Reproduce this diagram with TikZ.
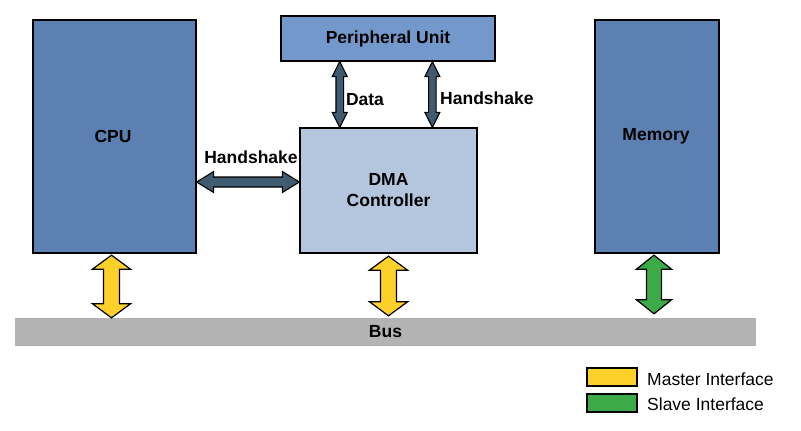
\documentclass[tikz,border=0pt]{standalone}
\usepackage{fontspec}
\setmainfont{Liberation Sans}
\usetikzlibrary{calc}
\definecolor{cpublue}{HTML}{5B80B1}
\definecolor{periblue}{HTML}{7399CC}
\definecolor{dmablue}{HTML}{B3C6DE}
\definecolor{darkarrow}{HTML}{3E5B72}
\definecolor{masteryellow}{HTML}{FDD12A}
\definecolor{slavegreen}{HTML}{3DAA48}
\definecolor{busgray}{HTML}{B3B3B3}
% double arrow: #1 style, #2 start, #3 end, #4 head length, #5 shaft half width, #6 head half width
\newcommand{\dblarrow}[6]{%
\draw[#1] (#2) -- ($(#2)!#4!(#3)!#6!90:(#3)$) -- ($(#2)!#4!(#3)!#5!90:(#3)$)
 -- ($(#3)!#4!(#2)!#5!-90:(#2)$) -- ($(#3)!#4!(#2)!#6!-90:(#2)$) -- (#3)
 -- ($(#3)!#4!(#2)!#6!90:(#2)$) -- ($(#3)!#4!(#2)!#5!90:(#2)$)
 -- ($(#2)!#4!(#3)!#5!-90:(#3)$) -- ($(#2)!#4!(#3)!#6!-90:(#3)$) -- cycle;}
\begin{document}
\begin{tikzpicture}[x=1pt,y=-1pt,
  every node/.style={font=\fontsize{17.5}{21}\selectfont},
  blockbox/.style={draw=black,line width=1.3pt,inner sep=0pt,font=\fontsize{17.5}{21}\selectfont\bfseries},
  lbl/.style={inner sep=0pt,font=\fontsize{17.5}{21}\selectfont\bfseries},
  legbox/.style={draw=black,line width=1.3pt,minimum width=50pt,minimum height=18pt,inner sep=0pt},
  legtext/.style={anchor=west,inner sep=0pt},
  arrowdark/.style={draw=black,line width=1.1pt,fill=darkarrow,line join=miter},
  arrowmaster/.style={draw=black,line width=1.2pt,fill=masteryellow,line join=miter},
  arrowslave/.style={draw=black,line width=1.2pt,fill=slavegreen,line join=miter}]
\useasboundingbox (0,0) rectangle (801,431);
\fill[white] (0,0) rectangle (801,431);

% blocks
\node[blockbox,fill=cpublue,minimum width=163pt,minimum height=233pt] (cpu) at (114.5,136.5) {};
\node[lbl] at (113,136) {CPU};
\node[blockbox,fill=periblue,minimum width=214pt,minimum height=45pt] (peri) at (388,38.5) {Peripheral Unit};
\node[blockbox,fill=dmablue,minimum width=177pt,minimum height=125pt,align=center] (dma) at (388.5,190.5) {DMA\\Controller};
\node[blockbox,fill=cpublue,minimum width=124pt,minimum height=233pt] (mem) at (657,136.5) {};
\node[lbl] at (656,136) {Memory};
\node[fill=busgray,minimum width=741pt,minimum height=28pt,inner sep=0pt,font=\fontsize{17.5}{21}\selectfont\bfseries] (bus) at (385.5,332) {Bus};

% anchor coordinates for connectors
\coordinate (dA) at ($(peri.south west)!0.276!(peri.south east)$);
\coordinate (dB) at (dA |- dma.north);
\coordinate (hsA) at ($(peri.south west)!0.706!(peri.south east)$);
\coordinate (hsB) at (hsA |- dma.north);
\coordinate (hB) at ($(dma.west)+(0,-8.5)$);
\coordinate (hA) at (hB -| cpu.east);
\coordinate (ca) at ($(cpu.south)+(-3,1.5)$);
\coordinate (cb) at (ca |- bus.north);
\coordinate (da) at ($(dma.south)+(0,2.5)$);
\coordinate (db) at ($(da |- bus.north)+(0,-2)$);
\coordinate (ma) at ($(mem.south)+(-3,1.5)$);
\coordinate (mb) at ($(ma |- bus.north)+(0,-4)$);

% connectors
\dblarrow{arrowdark}{dA}{dB}{15pt}{3.8pt}{7.5pt}
\dblarrow{arrowdark}{hsA}{hsB}{15pt}{3.8pt}{7.5pt}
\dblarrow{arrowdark}{hA}{hB}{17pt}{5pt}{10.5pt}
\dblarrow{arrowmaster}{ca}{cb}{14pt}{8pt}{19pt}
\dblarrow{arrowmaster}{da}{db}{14pt}{8pt}{19pt}
\dblarrow{arrowslave}{ma}{mb}{14pt}{7.5pt}{17.5pt}

% labels
\node[lbl] (datalbl) at (365,100) {Data};
\node[lbl,anchor=west] (hslbl) at (440,98) {Handshake};
\node[lbl] (hslbl2) at (251,157) {Handshake};

% legend
\node[legbox,fill=masteryellow] (ly) at (612,377) {};
\node[legtext] (lyt) at (647,379) {Master Interface};
\node[legbox,fill=slavegreen] (lg) at (612,403) {};
\node[legtext] (lgt) at (647,404) {Slave Interface};
\end{tikzpicture}
\end{document}
